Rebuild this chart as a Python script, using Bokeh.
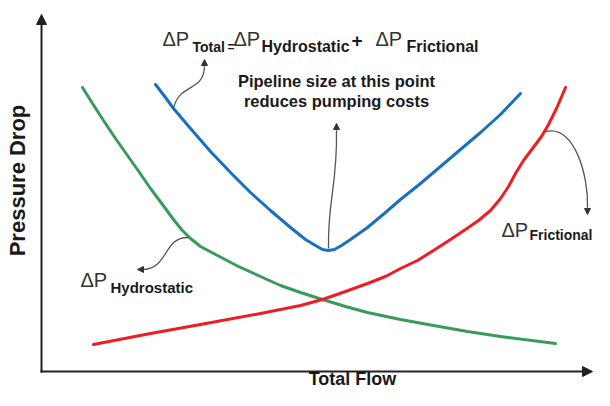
from bokeh.plotting import figure
from bokeh.models import Range1d, Label, Arrow, NormalHead
from bokeh.embed import file_html
from bokeh.resources import INLINE
import math

# ---- data (conceptual units: flow to the right, pressure drop upward) ----
flow_hydro = [41, 51, 62, 74, 86, 98, 109, 121, 132, 140, 149, 159, 176, 197, 219, 239,
              259, 281, 304, 326, 359, 392, 426, 459, 514]
dp_hydro = [285, 269, 252, 234, 217, 200, 184, 168, 153, 143, 134, 126, 117, 106, 96, 87,
            80, 73, 66, 60, 53, 47, 41, 36, 29]

flow_total = [114, 124, 132, 149, 169, 189, 209, 229, 249, 264, 274, 281, 287, 293, 300,
              309, 326, 344, 359, 379, 399, 419, 439, 459, 479]
dp_total = [288, 275, 264, 244, 221, 200, 180, 162, 145, 133, 127, 123, 122, 123, 127,
            133, 145, 160, 173, 189, 206, 223, 240, 258, 279]

flow_fric = [52, 109, 159, 219, 259, 281, 304, 326, 344, 359, 376, 392, 409, 424, 437,
             449, 459, 467, 474, 482, 491, 500, 507, 515, 524]
dp_fric = [28, 39, 48, 59, 67, 73, 81, 89, 96, 104, 112, 122, 133, 143, 152,
           162, 174, 186, 199, 212, 224, 236, 248, 264, 285]

GREEN = "#3a9a5c"
BLUE = "#1b6fbf"
RED = "#ee1d23"
GRAY = "#555555"
FONT = "Liberation Sans"

# helpers: picture pixel -> data units (origin at the axes corner)
def fx(px):
    return px - 41

def fy(py):
    return 372 - py

W, H = 594, 390
p = figure(width=W, height=H, output_backend="svg", toolbar_location=None,
           x_range=Range1d(fx(0), fx(W)), y_range=Range1d(fy(H), fy(0)),
           min_border=0, outline_line_color=None)
p.axis.visible = False
p.grid.visible = False
p.background_fill_color = "white"

# axes with arrows
p.add_layout(Arrow(end=NormalHead(size=10, fill_color="#222222", line_color="#222222"),
                   x_start=fx(41), y_start=fy(372), x_end=fx(41), y_end=fy(14),
                   line_width=2, line_color="#222222"))
p.add_layout(Arrow(end=NormalHead(size=10, fill_color="#222222", line_color="#222222"),
                   x_start=fx(40), y_start=fy(371), x_end=fx(592), y_end=fy(371),
                   line_width=2, line_color="#222222"))

# curves
p.line(flow_hydro, dp_hydro, line_color=GREEN, line_width=3, line_join="round", line_cap="round")
p.line(flow_total, dp_total, line_color=BLUE, line_width=3, line_join="round", line_cap="round")
p.line(flow_fric, dp_fric, line_color=RED, line_width=3, line_join="round", line_cap="round")

# annotation pointer curves
def pointer(x0, y0, c0, c1, x1, y1, tip):
    p.bezier(x0=[fx(x0)], y0=[fy(y0)], x1=[fx(x1)], y1=[fy(y1)],
             cx0=[fx(c0[0])], cy0=[fy(c0[1])], cx1=[fx(c1[0])], cy1=[fy(c1[1])],
             line_color=GRAY, line_width=1.3)
    p.add_layout(Arrow(end=NormalHead(size=6, fill_color="#333333", line_color="#333333"),
                       x_start=fx(x1), y_start=fy(y1), x_end=fx(tip[0]), y_end=fy(tip[1]),
                       line_width=1.3, line_color=GRAY))

pointer(173, 108, (179, 82), (203, 92), 204, 66, (204, 59))
pointer(328, 248, (327, 200), (337, 185), 336, 130, (336, 123))
pointer(188, 237, (163, 236), (168, 268), 143, 269, (137, 269))
pointer(545, 131, (574, 124), (588, 175), 587, 207, (587, 214))

def lab(px, py, text, size, bold=False, align="left", angle=0.0, color="#1a1a1a"):
    # compensate the renderer's baseline offset (about 0.4 em)
    off = 0.4 * size
    if angle:
        px -= off
    else:
        py -= off
    p.add_layout(Label(x=fx(px), y=fy(py), text=text, text_font=FONT,
                       text_font_size=f"{size}px", text_font_style="bold" if bold else "normal",
                       text_align=align, text_baseline="alphabetic", angle=angle,
                       text_color=color))

# title equation
lab(162, 46, "ΔP", 20, color="#333333")
lab(192, 52, "Total", 14, bold=True)
lab(227, 51, "=", 12, bold=True)
lab(233, 46, "ΔP", 20, color="#333333")
lab(261, 52, "Hydrostatic", 16, bold=True)
lab(351, 48, "+", 19, bold=True)
lab(375, 46, "ΔP", 20, color="#333333")
lab(406, 52, "Frictional", 16, bold=True)

# pipeline note
lab(336, 87, "Pipeline size at this point", 16.5, bold=True, align="center")
lab(336, 107, "reduces pumping costs", 16.5, bold=True, align="center")

# curve labels
lab(80, 287, "ΔP", 20, color="#333333")
lab(110, 293, "Hydrostatic", 15, bold=True)
lab(501, 237, "ΔP", 20, color="#333333")
lab(529, 240, "Frictional", 14, bold=True)

# axis titles
lab(352, 386, "Total Flow", 18, bold=True, align="center")
lab(26, 180, "Pressure Drop", 22, bold=True, align="center", angle=math.pi / 2)

open("out.html", "w").write(file_html(p, INLINE))
